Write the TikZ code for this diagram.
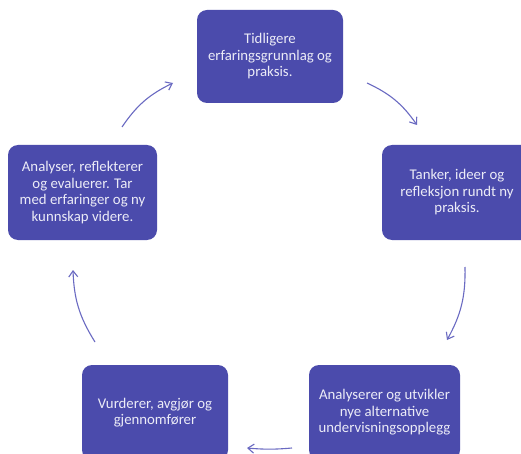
\documentclass[tikz,border=0pt]{standalone}
\usepackage{fontspec}
\setmainfont{Carlito}
\usetikzlibrary{arrows.meta}
\definecolor{boxfill}{HTML}{4B4BAC}
\definecolor{boxtext}{HTML}{ECECF7}
\definecolor{arrowcol}{HTML}{6A6AC2}
\begin{document}
\begin{tikzpicture}[x=1pt,y=-1pt,
  cyclebox/.style={fill=boxfill,draw=none,rounded corners=10pt,text=boxtext,
    align=center,font=\fontsize{14.8}{16.5}\selectfont,inner sep=0pt},
  cyclearrow/.style={draw=arrowcol,line width=1.1pt,-{Straight Barb[length=6pt,width=9pt]},bend left=15}]
\useasboundingbox (0,0) rectangle (521,454);
\fill[white] (0,0) rectangle (521,454);
\begin{scope}
\clip (0,0) rectangle (521,454);
\node[cyclebox,minimum width=146pt,minimum height=93pt] (b1) at (270,56.5) {Tidligere\\erfaringsgrunnlag og\\praksis.};
\node[cyclebox,minimum width=150pt,minimum height=95pt] (b2) at (457,192.5) {Tanker, ideer og\\refleksjon rundt ny\\praksis.};
\node[cyclebox,minimum width=149pt,minimum height=95pt] (b3) at (82.5,192.5) {Analyser, reflekterer\\og evaluerer. Tar\\med erfaringer og ny\\kunnskap videre.};
\node[cyclebox,minimum width=146pt,minimum height=95pt] (b4) at (155,412.5) {Vurderer, avgjør og\\gjennomfører};
\node[cyclebox,minimum width=151pt,minimum height=95pt] (b5) at (384.5,412.5) {Analyserer og utvikler\\nye alternative\\undervisningsopplegg};
\end{scope}
\coordinate (a1s) at (367,83);  \coordinate (a1e) at (417,125);
\coordinate (a2s) at (465,267); \coordinate (a2e) at (447,340);
\coordinate (a3s) at (292,448); \coordinate (a3e) at (247,448);
\coordinate (a4s) at (95,342);  \coordinate (a4e) at (73,270);
\coordinate (a5s) at (122,127); \coordinate (a5e) at (173,83);
\draw[cyclearrow] (a1s) to (a1e);
\draw[cyclearrow] (a2s) to (a2e);
\draw[cyclearrow,bend left=5] (a3s) to (a3e);
\draw[cyclearrow] (a4s) to (a4e);
\draw[cyclearrow] (a5s) to (a5e);
\end{tikzpicture}
\end{document}
